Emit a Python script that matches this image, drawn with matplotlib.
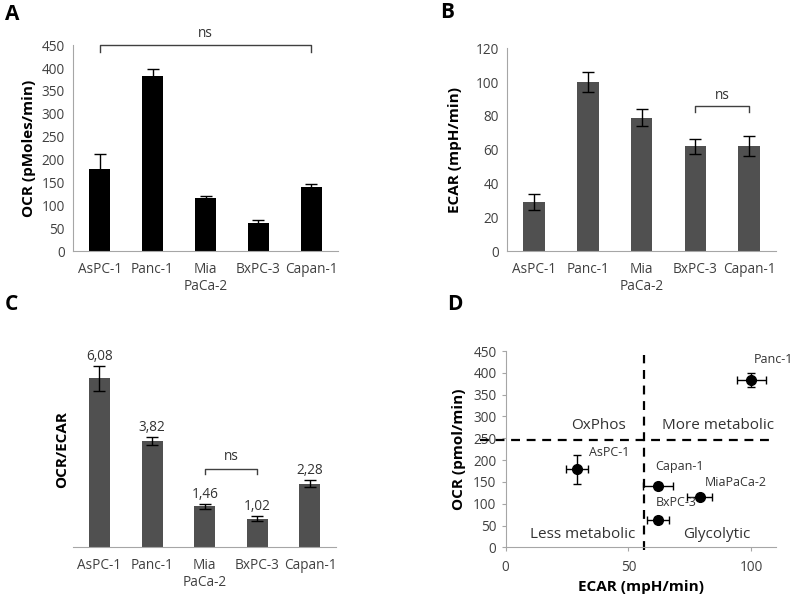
import matplotlib
matplotlib.use("Agg")
import matplotlib.pyplot as plt
import numpy as np

plt.rcParams['font.family'] = ['Open Sans', 'DejaVu Sans']

cells = ["AsPC-1", "Panc-1", "Mia\nPaCa-2", "BxPC-3", "Capan-1"]
scatter_names = ["AsPC-1", "Panc-1", "MiaPaCa-2", "BxPC-3", "Capan-1"]
ocr = [179, 383, 116, 62, 140]
ocr_err = [33, 16, 5, 7, 7]
ecar = [29, 100, 79, 62, 62]
ecar_err = [4.5, 6, 5, 4.5, 6]
ratio = [6.08, 3.82, 1.46, 1.02, 2.28]
ratio_err = [0.46, 0.15, 0.1, 0.09, 0.13]
ratio_labels = ["6,08", "3,82", "1,46", "1,02", "2,28"]

axis_col = "#a6a6a6"
tick_col = "#404040"
bar_gray = "#505050"

fig = plt.figure(figsize=(7.95, 5.95), dpi=100)

def style_bar_axes(ax, show_y=True):
    for s in ["top", "right"]:
        ax.spines[s].set_visible(False)
    ax.spines["bottom"].set_color(axis_col)
    ax.spines["left"].set_color(axis_col)
    if not show_y:
        ax.spines["left"].set_visible(False)
        ax.set_yticks([])
    ax.tick_params(axis="both", length=0, labelsize=9.8, colors=tick_col, pad=6)
    ax.tick_params(axis="x", pad=8)

x = np.arange(len(cells))

def bracket(ax, i, j, y, drop, text_y):
    ax.plot([i, i, j, j], [y - drop, y, y, y - drop], color="#404040", lw=1, clip_on=False)
    ax.text((i + j) / 2, text_y, "ns", ha="center", va="center", fontsize=9.8, color="#333333")

# Panel A
axA = fig.add_axes([0.092, 0.578, 0.333, 0.346])
axA.bar(x, ocr, width=0.4, color="black", yerr=ocr_err,
        error_kw=dict(ecolor="black", capsize=4, elinewidth=1, capthick=1))
axA.set_xlim(-0.5, 4.5)
axA.set_ylim(0, 450)
axA.set_yticks(np.arange(0, 451, 50))
axA.set_xticks(x)
axA.set_xticklabels(cells)
style_bar_axes(axA)
axA.set_ylabel("OCR (pMoles/min)", fontsize=11, fontweight="bold", color="black", labelpad=4)
bracket(axA, 0, 4, 450, 15, 475)

# Panel B
axB = fig.add_axes([0.638, 0.578, 0.338, 0.341])
axB.bar(x, ecar, width=0.4, color=bar_gray, yerr=ecar_err,
        error_kw=dict(ecolor="black", capsize=4, elinewidth=1, capthick=1))
axB.set_xlim(-0.5, 4.5)
axB.set_ylim(0, 120)
axB.set_yticks(np.arange(0, 121, 20))
axB.set_xticks(x)
axB.set_xticklabels(cells)
style_bar_axes(axB)
axB.set_ylabel("ECAR (mpH/min)", fontsize=11, fontweight="bold", color="black", labelpad=10)
bracket(axB, 3, 4, 86, 4, 92)

# Panel C
axC = fig.add_axes([0.092, 0.081, 0.331, 0.326])
axC.bar(x, ratio, width=0.4, color=bar_gray, yerr=ratio_err,
        error_kw=dict(ecolor="black", capsize=4, elinewidth=1, capthick=1))
axC.set_xlim(-0.5, 4.5)
axC.set_ylim(0, 7)
axC.set_xticks(x)
axC.set_xticklabels(cells)
style_bar_axes(axC, show_y=False)
axC.set_ylabel("OCR/ECAR", fontsize=11, fontweight="bold", color="black", labelpad=3)
for xi, v, e, lab in zip(x, ratio, ratio_err, ratio_labels):
    axC.text(xi, v + e + 0.33, lab, ha="center", va="center", fontsize=9.8, color="#333333")
bracket(axC, 2, 3, 2.81, 0.17, 3.26)

# Panel D
axD = fig.add_axes([0.636, 0.080, 0.340, 0.330])
axD.errorbar(ecar, ocr, xerr=ecar_err, yerr=ocr_err, fmt="o", color="black",
             markersize=7, ecolor="black", elinewidth=1, capsize=3, capthick=1, zorder=3)
axD.set_xlim(0, 110)
axD.set_ylim(0, 450)
axD.set_xticks([0, 50, 100])
axD.set_yticks(np.arange(0, 451, 50))
for s in ["top", "right"]:
    axD.spines[s].set_visible(False)
axD.spines["bottom"].set_color(axis_col)
axD.spines["left"].set_color(axis_col)
axD.tick_params(axis="both", direction="out", length=3, color=axis_col,
                labelsize=9.8, labelcolor=tick_col)
axD.tick_params(axis="x", pad=6)
axD.set_ylabel("OCR (pmol/min)", fontsize=11, fontweight="bold", color="black", labelpad=5)
axD.set_xlabel("ECAR (mpH/min)", fontsize=11, fontweight="bold", color="black", labelpad=4)
axD.plot([-10.6, 108], [246, 246], ls=(0, (4, 3)), color="black", lw=1.6, clip_on=False, zorder=2)
axD.plot([56.4, 56.4], [-5, 440], ls=(0, (4, 3)), color="black", lw=1.6, clip_on=False, zorder=2)
axD.text(37.7, 280, "OxPhos", ha="center", va="center", fontsize=11, color="#333333")
axD.text(86.6, 280, "More metabolic", ha="center", va="center", fontsize=11, color="#333333")
axD.text(31.3, 30, "Less metabolic", ha="center", va="center", fontsize=11, color="#333333")
axD.text(85.8, 30, "Glycolytic", ha="center", va="center", fontsize=11, color="#333333")
label_pos = {"AsPC-1": (34, 218), "Panc-1": (101, 430), "MiaPaCa-2": (81, 149),
             "BxPC-3": (61, 104), "Capan-1": (61, 185)}
for name in scatter_names:
    lx, ly = label_pos[name]
    axD.text(lx, ly, name, ha="left", va="center", fontsize=9, color="#333333")

# panel letters
for lab, px, py in [("A", 5, 14), ("B", 440, 12), ("C", 5, 305), ("D", 447, 305)]:
    fig.text(px / 795, 1 - py / 595, lab, fontsize=15, fontweight="bold", ha="left", va="center")

fig.savefig("out.png", dpi=100)
